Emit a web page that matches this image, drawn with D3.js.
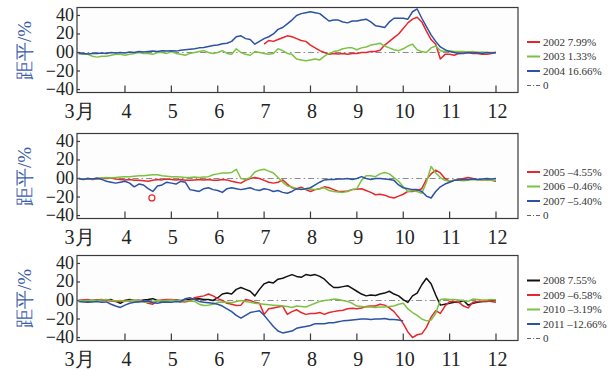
<!DOCTYPE html>
<html>
<head>
<meta charset="utf-8">
<script src="https://cdn.jsdelivr.net/npm/d3@7/dist/d3.min.js"></script>
<style>
  body { margin: 0; background: #fff; }
</style>
</head>
<body>
<svg id="chart" width="615" height="370"></svg>
<script>
// month ticks and labels
const months = [3, 4, 5, 6, 7, 8, 9, 10, 11, 12];
const monthLabels = ['3月', '4', '5', '6', '7', '8', '9', '10', '11', '12'];
const yTicks = [40, 20, 0, -20, -40];
const step = 0.1; // values are sampled every 0.1 month

// panel 1
const v2002 = [
  9, 13, 12, 14, 16, 18, 17, 15, 13, 12,
  8, 5, 2, 0, -2, -1, -1.5, -1, -2, -1,
  -1, 0, 0, 1, 1, 2.5, 8, 12, 16, 20,
  26, 32, 36, 38, 33, 23, 14, 9, -7, -2,
  -2, -3, -1, -0.5, 0, -1, -1, -2, -2, -1,
  0];
const v2003 = [
  -1, -2, -2, -4, -5, -4, -4, -3, -2, -2,
  -3, -2, -1, 0, -1, -1, -2, 0, 0, -1,
  1, -1, -2, -3, -1, 0, 1, 2, 0, -1,
  0, 2, -1, -2, 4, 0, -2, -3, 1, 0,
  -1, -2, -1, 4, 2, -1, -2, -7, -8, -9,
  -8, -7, -8, -4, -1, 1, 2, 4, 5, 5,
  3, 5, 6, 8, 9, 10, 7, 5, 3, 2,
  4, 7, 9, 3, 1, 0, 5, 7, 2, 1,
  2, 1, 1, 1, 0.5, 1, 0, 0.5, 0, 0,
  0];
const v2004 = [
  -1, -1, -1.5, -1, -1, -0.5, -1, 0, -0.5, 0,
  -0.5, 0.5, 0, 1, 0.5, 1, 1.5, 1, 2, 1.5,
  2, 1.5, 2.5, 3, 3.5, 4, 5, 5.5, 6.5, 7.5,
  8, 9.5, 10, 12, 17, 18, 15, 14, 9, 12,
  15, 17, 20, 25, 27, 31, 35, 40, 42, 43,
  44, 43, 42, 38, 34, 35, 35, 33, 32, 34,
  34, 35, 36, 33, 29, 28, 27, 33, 37, 37,
  37, 36, 44, 47, 37, 28, 19, 12, 6, 3,
  1, 0, -1, -1, 0, -0.5, 0, -1, 0, -0.5,
  0];

// panel 2
const v2005 = [
  0, -0.5, 0, -1, -0.5, 0.5, 0, 0.5, -0.5, -1,
  -1.5, -1, -2, -2, -2.5, -3, -2, -1, -1.5, -0.5,
  -1, -1.5, -1, -2, -2, -1.5, -1, -1.5, -1, -2,
  -2, -1, -1.5, -3, -4, -5, -2, 0, 1, 0,
  -2, -4, -5, -4, -1.5, -6, -10, -11, -9.5, -12,
  -14, -12, -11, -9, -10, -12, -14, -14, -13.5, -12,
  -11.5, -11, -13, -15, -17.5, -17, -18, -20, -21, -19,
  -17, -14, -14, -13, -11, -1, 5, 9, 6, 0,
  -3, -2, -1, 0, 1, 0, -1, -1.5, -1, -2,
  -3];
const v2006 = [
  0, -0.5, 0, -0.5, 0, 0.5, 1, 0.5, 1, 1.5,
  2, 2, 2.5, 3, 3, 3.5, 4, 4, 3, 2.5,
  2, 2, 1.5, 1, 1, 1.5, 1, 1.5, 2, 4,
  5, 6, 6, 6.5, 10, 0, -1, 1, 7, 9,
  10, 8, 6, 1, -4, -8, -9, -11, -11.5, -11,
  -11.5, -12, -11, -10, -13, -14, -14.5, -15, -14, -12,
  -11, -2, 3, 3, 2, 5, 6.5, 5, 1, -3,
  -9, -14, -13, -14, -16, -4, 13, 6, 1, -2,
  -3, -2, -2, -2.5, -2, -1, -1.5, -1, -2, -1.5,
  -2];
const v2007 = [
  0, -1, 0, -0.5, 0.5, -1, -3, -4, -5, -4,
  -3, -5, -9, -6, -7, -11, -14, -8, -7, -4,
  -5, -6, -3, -4, -12, -13, -14, -11, -10, -12,
  -13, -15, -11, -10, -11, -12, -11, -10, -12, -13,
  -11, -12, -14, -13, -15, -16, -14, -11, -12, -11,
  -10, -7, -4, -1.5, -1, -1, -0.5, -0.5, 0, -1,
  0, 2, 0, -1, 0, 0, -0.5, -1, -2, -7,
  -10, -11, -12, -12, -14, -19, -21, -14, -9, -6,
  -4, -2, -1.5, -1, -1, -0.5, -1, -0.5, 0, -0.5,
  0];
const outlier2005 = [{ m: 4.58, v: -21 }];

// panel 3
const v2008 = [
  0, 0, -0.5, 0, 0.5, 0, 0.5, 1, -1, -3,
  0, 1, 0, -0.5, 0.5, 1, 2, 0, -0.5, 0,
  0, 0.5, 0, 0.5, 1, 1.5, 2, 1, 1, 0,
  3, 7, 8, 7, 12, 14, 12, 10, 5, 12,
  18, 20, 19, 23, 24, 26, 28, 26, 25, 28,
  27, 28, 26, 23, 18, 14, 14, 15, 16, 13,
  10, 7, 5, 6, 5.5, 7, 8, 10, 7, 5,
  1, -2, 5, 8, 17, 24, 18, 6, -5, -4,
  -3, -2, -2, 0, -5, -3, -2, -1, -1, 0,
  0];
const v2009 = [
  0, 0.5, 1, 0, 0.5, 1, 0, -0.5, -1, -1,
  0, -0.5, 0, 0.5, -1, -3, -4, 0, 0.5, 1,
  1, 0.5, -1, -1.5, -0.5, 3, 4, 5, 7, 5,
  2, 0, -3, -4, -5.5, -5, 1, 0, -2, -3,
  -15, -9, -8, -7, -6, -15, -12, -10, -13, -15,
  -14, -14, -13, -15, -13, -12, -11, -10.5, -9, -8.5,
  -9, -8, -6.5, -6, -6, -4, -5, -8, -12, -18,
  -25, -34, -40, -37, -36, -29, -18, -11, -14, -6,
  -1, -1, -2, -6, -8, -2, -1, -1, -0.5, -1,
  -2];
const v2010 = [
  0, -0.5, 0, 0.5, 0, 0.5, 1, 0, -0.5, 0,
  -1, 0, 0.5, 0, -1.5, -2, -1, 0, -0.5, 0,
  0.5, 0, -0.5, 0, -0.5, -1, -4, -5.5, -5, -4,
  -2, -1.5, -2, -2.5, -1, 0, -1, -2, -3, -3.5,
  -4, -4.5, -5, -5.5, -6, -6.5, -7.5, -6, -6.5, -7,
  -5, -3, -1, 0, 0.5, 1.5, 1, 0, -1, -3,
  -6, -6.5, -7, -7, -7.5, -7, -7, -6.5, -6, -4,
  -3, -9, -13, -16, -20, -22, -21, -14, 1, 1.5,
  1, 1, 0.5, 0, -1, 1.5, 1, 0.5, 0.5, 1,
  0.5];
const v2011 = [
  -1, -1.5, -2, -1.5, -1, -2, -1.5, -4, -6, -7.5,
  -5, -3, -2, -1.5, -1, -0.5, -2.5, -3, -2, -1.5,
  -2, -1, -1.5, 2, 3, 1, -1, -2, -2.5, -3,
  -4, -6, -9, -12, -16, -19, -16, -13, -12, -11,
  -16, -22, -28, -33, -35, -34, -33, -30, -29, -28,
  -27, -25, -25, -25, -24, -24, -23, -22, -21.5, -21,
  -20.5, -20, -20, -20.5, -20, -20, -19.5, -20.5, -20.5, -21,
  -22];

const RED = '#e8262b', GREEN = '#7cc242', BLUE = '#2b52a3', BLACK = '#111';
const SERIF = '"Times New Roman"';

const panels = [
  { top: 7.5, legendY: 42, series: [
    { label: '2002 7.99%', color: RED, start: 7, values: v2002 },
    { label: '2003 1.33%', color: GREEN, start: 3, values: v2003 },
    { label: '2004 16.66%', color: BLUE, start: 3, values: v2004 }] },
  { top: 133.5, legendY: 172, points: outlier2005, series: [
    { label: '2005 –4.55%', color: RED, start: 3, values: v2005 },
    { label: '2006 –0.46%', color: GREEN, start: 3, values: v2006 },
    { label: '2007 –5.40%', color: BLUE, start: 3, values: v2007 }] },
  { top: 255.5, legendY: 280.5, series: [
    { label: '2008 7.55%', color: BLACK, start: 3, values: v2008 },
    { label: '2009 –6.58%', color: RED, start: 3, values: v2009 },
    { label: '2010 –3.19%', color: GREEN, start: 3, values: v2010 },
    { label: '2011 –12.66%', color: BLUE, start: 3, values: v2011 }] }
];

const svg = d3.select('#chart');
const boxLeft = 77, boxRight = 518, boxH = 85;
const x = d3.scaleLinear().domain([3, 12]).range([78.6, 496]);
const zeroDash = '6,3,1.5,3';

panels.forEach((p) => {
  const y = d3.scaleLinear().domain([-43.2, 48.6]).range([p.top + boxH, p.top]);
  const g = svg.append('g');

  g.append('rect')
    .attr('x', boxLeft).attr('y', p.top)
    .attr('width', boxRight - boxLeft).attr('height', boxH)
    .attr('fill', '#fdfdfd').attr('stroke', '#3a3a3a').attr('stroke-width', 1.2);

  // zero reference line
  g.append('line')
    .attr('x1', x(3)).attr('x2', x(12))
    .attr('y1', y(0)).attr('y2', y(0))
    .attr('stroke', '#8a8a8a').attr('stroke-width', 1)
    .attr('stroke-dasharray', zeroDash);

  // y ticks, inward
  g.selectAll('.yt').data(yTicks).join('line')
    .attr('x1', boxLeft).attr('x2', boxLeft + 3)
    .attr('y1', (d) => y(d)).attr('y2', (d) => y(d))
    .attr('stroke', '#3a3a3a').attr('stroke-width', 1.2);
  g.selectAll('.yl').data(yTicks).join('text')
    .attr('x', 74).attr('y', (d) => y(d) + 5.5)
    .attr('text-anchor', 'end')
    .style('font-family', SERIF).style('font-size', '18px').attr('fill', '#222')
    .text((d) => (d === 0 ? '00' : d < 0 ? '−' + Math.abs(d) : d));

  // x ticks, inward from the bottom
  g.selectAll('.xt').data(months.slice(1)).join('line')
    .attr('x1', (d) => x(d)).attr('x2', (d) => x(d))
    .attr('y1', p.top + boxH).attr('y2', p.top + boxH - 7)
    .attr('stroke', '#3a3a3a').attr('stroke-width', 1.2);
  g.selectAll('.xl').data(months).join('text')
    .attr('x', (d, i) => x(d) + (i === 0 ? 1 : 1.5))
    .attr('y', p.top + boxH + 25)
    .attr('text-anchor', 'middle')
    .style('font-family', SERIF).style('font-size', '20px').attr('fill', '#222')
    .text((d, i) => monthLabels[i]);

  // y title
  g.append('text')
    .attr('transform', `translate(31,${p.top + 43}) rotate(-90)`)
    .attr('text-anchor', 'middle')
    .style('font-family', SERIF).style('font-size', '19px').attr('fill', '#3d5eab')
    .text('距平/%');

  const line = d3.line()
    .x((d) => x(d.m)).y((d) => y(d.v));

  p.series.forEach((s) => {
    const pts = s.values.map((v, i) => ({ m: s.start + i * step, v }));
    g.append('path').datum(pts)
      .attr('d', line)
      .attr('fill', 'none').attr('stroke', s.color)
      .attr('stroke-width', 1.5).attr('stroke-linejoin', 'round');
  });

  if (p.points) {
    g.selectAll('.pt').data(p.points).join('circle')
      .attr('cx', (d) => x(d.m)).attr('cy', (d) => y(d.v)).attr('r', 3)
      .attr('fill', 'none').attr('stroke', RED).attr('stroke-width', 1.2);
  }

  // legend
  const items = p.series.map((s) => ({ label: s.label, color: s.color }))
    .concat([{ label: '0', color: '#666', dash: true }]);
  const lg = g.selectAll('.lg').data(items).join('g')
    .attr('transform', (d, i) => `translate(527,${p.legendY + i * 14.5})`);
  lg.append('line')
    .attr('x1', 0).attr('x2', 13)
    .attr('stroke', (d) => d.color)
    .attr('stroke-width', (d) => (d.dash ? 1 : 2))
    .attr('stroke-dasharray', (d) => (d.dash ? '4,2,1,2' : null));
  lg.append('text')
    .attr('x', 16).attr('y', 3.8)
    .style('font-family', SERIF).style('font-size', '11px').attr('fill', '#333')
    .text((d) => d.label);
});
</script>
</body>
</html>
